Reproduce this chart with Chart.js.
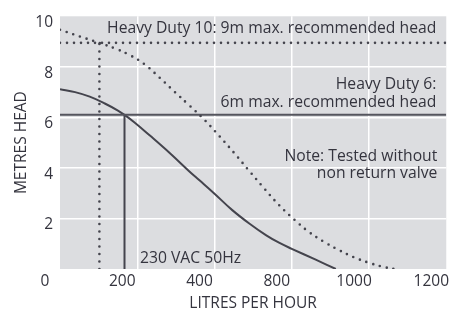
<!DOCTYPE html>
<html>
<head>
<meta charset="utf-8">
<script src="https://cdn.jsdelivr.net/npm/chart.js@4.4.1/dist/chart.umd.min.js"></script>
<style>
  html, body { margin: 0; padding: 0; background: #fff; }
  #wrap { width: 467px; height: 330px; }
</style>
</head>
<body>
<div id="wrap"><canvas id="pumpChart" width="467" height="330"></canvas></div>
<script>
// ---- data ----
// x tick labels as printed on the original (600 is not printed)
const xTickLabels = ['0', '200', '400', '800', '1000', '1200'];

// Heavy Duty 6 pump curve (solid)
const hd6Flow = [0, 39, 77, 116, 150, 167, 193, 232, 284, 335, 361, 400, 446, 490, 534, 567, 600, 662, 714];
const hd6Head = [7.11, 7.0, 6.82, 6.55, 6.27, 6.1, 5.8, 5.29, 4.59, 3.86, 3.51, 2.98, 2.33, 1.8, 1.33, 1.04, 0.8, 0.37, 0];

// Heavy Duty 10 pump curve (dotted)
const hd10Flow = [0, 52, 103, 142, 180, 219, 258, 296, 335, 374, 412, 451, 490, 528, 567, 606, 644, 683, 722, 760, 799, 838, 866];
const hd10Head = [9.47, 9.2, 8.94, 8.73, 8.47, 8.1, 7.57, 7.02, 6.47, 5.9, 5.27, 4.59, 3.88, 3.2, 2.53, 1.96, 1.47, 1.08, 0.75, 0.47, 0.25, 0.08, 0];

// max. recommended head markers
const hd6MaxHead = 6.1;
const hd6MaxFlow = 167;
const hd10MaxHead = 8.95;
const hd10MaxFlow = 102;

const X_MAX = 1000;

const INK = '#44444d';
const TEXT = '#34343e';
const FONT = "'Open Sans', 'Noto Sans', sans-serif";

function pts(xs, ys) { return xs.map((x, i) => ({ x: x, y: ys[i] })); }

// grey plot background + the in-plot notes
const plotDecor = {
    id: 'plotDecor',
    beforeDraw(chart) {
        const { ctx, chartArea: a } = chart;
        ctx.save();
        ctx.fillStyle = '#dcdde0';
        ctx.fillRect(a.left, a.top, a.right - a.left, a.bottom - a.top);
        ctx.restore();
    },
    afterDraw(chart) {
        const { ctx, chartArea: a } = chart;
        ctx.save();
        ctx.fillStyle = TEXT;
        ctx.font = '500 15.7px ' + FONT;
        ctx.textBaseline = 'alphabetic';
        ctx.textAlign = 'right';
        ctx.fillText('Heavy Duty 10: 9m max. recommended head', a.right - 10, a.top + 17);
        ctx.fillText('Heavy Duty 6:', a.right - 10, a.top + 73);
        ctx.fillText('6m max. recommended head', a.right - 10, a.top + 91);
        ctx.fillText('Note: Tested without', a.right - 9, a.top + 145);
        ctx.fillText('non return valve', a.right - 9, a.top + 162);
        ctx.textAlign = 'left';
        ctx.fillText('230 VAC 50Hz', a.left + 80, a.top + 247);
        ctx.restore();
    }
};

function hideEdges(c) {
    const n = c.chart.scales[c.scale.id].ticks.length;
    return (c.index === 0 || c.index === n - 1) ? 'rgba(0,0,0,0)' : '#ffffff';
}

const tickFont = { family: FONT, size: 15.5, weight: 500 };

new Chart(document.getElementById('pumpChart'), {
    type: 'line',
    data: {
        datasets: [
            { // HD10 max head (dotted horizontal)
                data: pts([0, X_MAX], [hd10MaxHead, hd10MaxHead]),
                borderColor: INK, borderWidth: 2.6, borderDash: [0, 7], borderCapStyle: 'round'
            },
            { // HD10 max head flow (dotted vertical)
                data: pts([hd10MaxFlow, hd10MaxFlow], [0, hd10MaxHead]),
                borderColor: INK, borderWidth: 2.6, borderDash: [0, 7.5], borderCapStyle: 'round'
            },
            { // HD10 curve
                data: pts(hd10Flow, hd10Head),
                borderColor: INK, borderWidth: 2.6, borderDash: [0, 7], borderCapStyle: 'round',
                tension: 0.4
            },
            { // HD6 max head (solid horizontal)
                data: pts([0, X_MAX], [hd6MaxHead, hd6MaxHead]),
                borderColor: '#55555e', borderWidth: 2
            },
            { // HD6 max head flow (solid vertical)
                data: pts([hd6MaxFlow, hd6MaxFlow], [0, hd6MaxHead]),
                borderColor: INK, borderWidth: 2
            },
            { // HD6 curve
                data: pts(hd6Flow, hd6Head),
                borderColor: INK, borderWidth: 2,
                tension: 0.4
            }
        ]
    },
    options: {
        responsive: false,
        devicePixelRatio: 1,
        animation: false,
        layout: { padding: { top: 14, right: 19, left: 0, bottom: 0 } },
        elements: { point: { radius: 0, hoverRadius: 0 } },
        plugins: { legend: { display: false }, tooltip: { enabled: false } },
        scales: {
            x: {
                type: 'linear', min: 0, max: X_MAX,
                afterFit(s) { s.height = 61; },
                border: { display: false },
                grid: { color: hideEdges, lineWidth: 1.5, drawTicks: false },
                ticks: {
                    stepSize: 200, padding: 3, labelOffset: -15,
                    color: TEXT, font: tickFont,
                    maxRotation: 0,
                    callback: (v, i) => xTickLabels[i]
                },
                title: {
                    display: true, text: 'LITRES PER HOUR', color: TEXT,
                    font: tickFont,
                    padding: { top: 0, bottom: 17 }
                }
            },
            y: {
                type: 'linear', min: 0, max: 10,
                afterFit(s) { s.width = 60; },
                border: { display: false },
                grid: { color: hideEdges, lineWidth: 1.5, drawTicks: false },
                ticks: {
                    stepSize: 2, padding: 7, labelOffset: 6.5,
                    color: TEXT, font: tickFont,
                    callback: v => (v === 0 ? '' : v)
                },
                title: {
                    display: true, text: 'METRES HEAD', color: TEXT,
                    font: tickFont,
                    padding: { top: 12, bottom: 0 }
                }
            }
        }
    },
    plugins: [plotDecor]
});
</script>
</body>
</html>
